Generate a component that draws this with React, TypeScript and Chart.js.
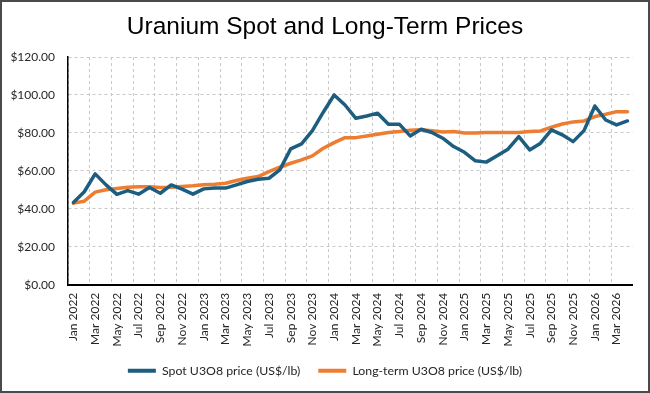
import React, { useEffect, useRef } from "react";
import { Chart, registerables } from "chart.js";

Chart.register(...registerables);

const MONTHS = ["Jan", "Feb", "Mar", "Apr", "May", "Jun", "Jul", "Aug", "Sep", "Oct", "Nov", "Dec"];
const YEARS = [2022, 2023, 2024, 2025, 2026];
const categories: string[] = [];
for (const y of YEARS) for (const m of MONTHS) categories.push(`${m} ${y}`);
const labels = categories.slice(0, 52); // Jan 2022 .. Apr 2026

const spotPrice = [
  43.3, 49, 58.4, 52.6, 47.6, 49.6, 47.7, 51.2, 48.2, 52.6, 50.4, 47.7,
  50.5, 51, 50.9, 52.6, 54.4, 55.6, 56.1, 60.5, 71.6, 74.2, 81.2, 90.9,
  100, 94.7, 87.7, 88.9, 90.4, 84.6, 84.6, 78.4, 81.9, 80.2, 77.2, 72.8,
  69.8, 65.3, 64.6, 68, 71.4, 78, 71, 74.6, 81.6, 79, 75.4, 81.2,
  94.2, 86.8, 84.2, 86.3,
];

const longTermPrice = [
  43, 44, 48.8, 50, 50.7, 51.4, 51.6, 51.6, 51.2, 51.4, 51.8, 52.1,
  52.7, 53, 53.5, 54.9, 56.1, 57, 59.6, 61.9, 64, 65.8, 67.9, 71.9,
  74.9, 77.5, 77.5, 78.4, 79.3, 80.2, 80.7, 81.4, 81.6, 81.2, 80.5, 80.7,
  80, 80, 80.2, 80.2, 80.2, 80.2, 80.7, 81, 83, 84.7, 85.8, 86.3,
  88.6, 89.8, 91.2, 91.2,
];

const SPOT_LABEL = "Spot U3O8 price (US$/lb)";
const LT_LABEL = "Long-term U3O8 price (US$/lb)";
const TITLE = "Uranium Spot and Long-Term Prices";

const SPOT_COLOR = "#1d5d7f";
const LT_COLOR = "#ed7d31";
const GRID_COLOR = "#c9c9c9";
const TEXT_COLOR = "#262626";
const FONT = "Lato, 'Open Sans', sans-serif";

export default function App() {
  const canvasRef = useRef<HTMLCanvasElement | null>(null);

  useEffect(() => {
    if (!canvasRef.current) return;
    const chart = new Chart(canvasRef.current, {
      type: "line",
      data: {
        labels,
        datasets: [
          {
            label: SPOT_LABEL,
            data: spotPrice,
            borderColor: SPOT_COLOR,
            backgroundColor: SPOT_COLOR,
            borderWidth: 3.5,
            pointRadius: 0,
            tension: 0,
            borderJoinStyle: "round",
            borderCapStyle: "round",
          },
          {
            label: LT_LABEL,
            data: longTermPrice,
            borderColor: LT_COLOR,
            backgroundColor: LT_COLOR,
            borderWidth: 3.5,
            pointRadius: 0,
            tension: 0,
            borderJoinStyle: "round",
            borderCapStyle: "round",
          },
        ],
      },
      options: {
        animation: false,
        responsive: false,
        maintainAspectRatio: false,
        layout: { padding: { left: 10, right: 10, top: 0, bottom: 6 } },
        plugins: {
          title: {
            display: true,
            text: TITLE,
            color: "#000",
            font: { family: "'Liberation Sans', Arial, sans-serif", size: 24.5, weight: "normal" },
            padding: { top: 12.2, bottom: 15.4 },
          },
          legend: {
            position: "bottom",
            labels: {
              color: TEXT_COLOR,
              font: { family: FONT, size: 12.3 },
              boxWidth: 28,
              boxHeight: 4,
              padding: 18,
              generateLabels: (c: any) =>
                c.data.datasets.map((ds: any, i: number) => ({
                  text: ds.label,
                  fillStyle: ds.borderColor,
                  strokeStyle: ds.borderColor,
                  lineWidth: 0,
                  hidden: false,
                  datasetIndex: i,
                  fontColor: TEXT_COLOR,
                })),
            },
          },
          tooltip: { enabled: false },
        },
        scales: {
          x: {
            offset: true,
            grid: {
              offset: true,
              drawTicks: false,
              color: (ctx: any) => (ctx.index % 2 === 0 ? GRID_COLOR : "rgba(0,0,0,0)"),
              lineWidth: 1,
            },
            border: { display: true, color: "#000", width: 2, dash: [3, 3] },
            ticks: {
              autoSkip: false,
              maxRotation: 90,
              minRotation: 90,
              padding: 8,
              color: TEXT_COLOR,
              font: { family: FONT, size: 12 },
              callback: (_v: any, i: number) => (i % 2 === 0 ? labels[i] : ""),
            },
            afterFit: (scale: any) => {
              scale.height = 62;
            },
          },
          y: {
            min: 0,
            max: 120,
            grid: {
              drawTicks: false,
              color: GRID_COLOR,
              lineWidth: 1,
            },
            border: { display: true, color: "#000", width: 1.5, dash: [3, 3] },
            ticks: {
              stepSize: 20,
              padding: 13,
              color: TEXT_COLOR,
              font: { family: FONT, size: 12 },
              callback: (v: any) => "$" + Number(v).toFixed(2),
            },
            afterFit: (scale: any) => {
              scale.width = 58;
            },
          },
          yRightSpace: {
            type: "linear",
            position: "right",
            display: true,
            grid: { display: false, drawTicks: false },
            border: { display: false },
            ticks: { display: false },
            afterFit: (scale: any) => {
              scale.width = 7;
            },
          },
        },
      } as any,
    });
    return () => chart.destroy();
  }, []);

  return (
    <div style={{ position: "absolute", left: 0, top: 0, width: 650, height: 393, background: "#fff" }}>
      <canvas ref={canvasRef} width={650} height={393} style={{ display: "block" }} />
      <div
        style={{
          position: "absolute",
          left: 0,
          top: 0,
          width: 650,
          height: 393,
          boxSizing: "border-box",
          border: "2px solid #4a4a4a",
          pointerEvents: "none",
        }}
      />
    </div>
  );
}
